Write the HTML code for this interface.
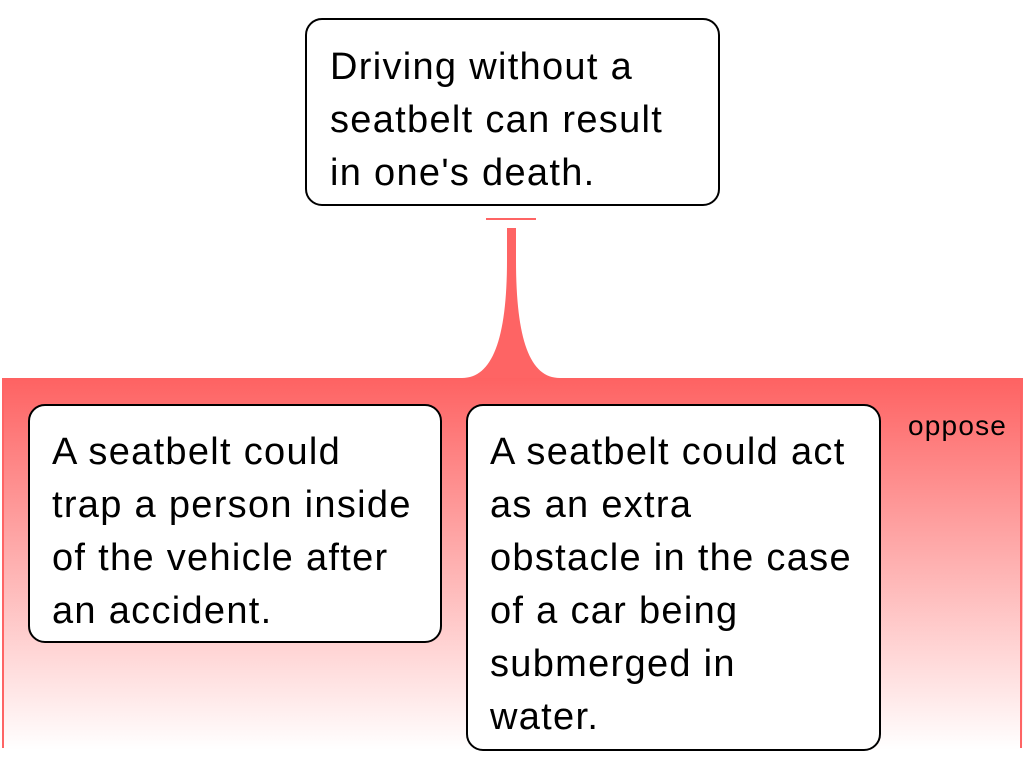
<!DOCTYPE html>
<html><head><style>
body{margin:0;width:1024px;height:768px;background:#fff;position:relative;overflow:hidden;font-family:"Liberation Sans",sans-serif}
.box{position:absolute;border:2px solid #000;border-radius:17px;background:#fff;box-sizing:border-box}
.t{position:absolute;font-size:38px;letter-spacing:1.3px;line-height:53px;color:#000;white-space:nowrap}
</style></head><body>
<svg width="1024" height="768" style="position:absolute;left:0;top:0">
<defs><linearGradient id="g" x1="0" y1="0" x2="0" y2="1">
<stop offset="0" stop-color="#fe6262"/><stop offset="1" stop-color="#fe6262" stop-opacity="0"/></linearGradient></defs>
<rect x="2" y="378" width="1021" height="372" fill="url(#g)"/>
<rect x="2" y="378" width="2" height="370" fill="#fe6464"/>
<rect x="1020" y="378" width="2" height="370" fill="#fe6464"/>
<rect x="486" y="218" width="50" height="2" fill="#fe6464"/>
<path d="M507 228 H516 V260 C516 340 530 378 560 378 H462 C492 378 507 340 507 260 Z" fill="#fe6464"/>
</svg>
<div class="box" style="left:305px;top:18px;width:415px;height:188px"></div>
<div class="t" style="left:330px;top:41px">Driving without a<br>seatbelt can result<br>in one's death.</div>
<div class="box" style="left:28px;top:404px;width:414px;height:239px"></div>
<div class="t" style="left:52px;top:426px">A seatbelt could<br>trap a person inside<br>of the vehicle after<br>an accident.</div>
<div class="box" style="left:466px;top:404px;width:415px;height:347px"></div>
<div class="t" style="left:490px;top:426px">A seatbelt could act<br>as an extra<br>obstacle in the case<br>of a car being<br>submerged in<br>water.</div>
<div style="position:absolute;left:908px;top:410px;font-size:28px;letter-spacing:1.2px;line-height:32px">oppose</div>
</body></html>
